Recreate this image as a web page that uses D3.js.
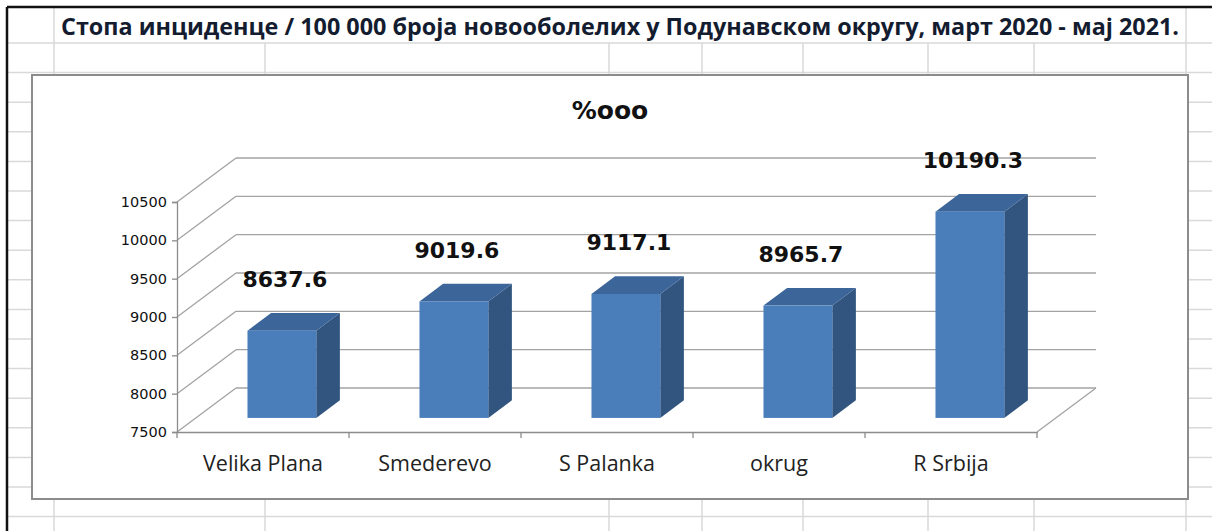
<!DOCTYPE html>
<html>
<head>
<meta charset="utf-8">
<script src="https://cdn.jsdelivr.net/npm/d3@7"></script>
<style>
  body { margin: 0; background: #fff; }
  svg { display: block; }
</style>
</head>
<body>
<svg id="chart" width="1212" height="531"></svg>
<script>
const titleText = "Стопа инциденце / 100 000 броја новооболелих у Подунавском округу, март 2020 - мај 2021.";
const chartTitle = "%ooo";
const categories = ["Velika Plana", "Smederevo", "S Palanka", "okrug", "R Srbija"];
const values = [8637.6, 9019.6, 9117.1, 8965.7, 10190.3];
const yTicks = [7500, 8000, 8500, 9000, 9500, 10000, 10500];

const svg = d3.select("#chart");

// spreadsheet background grid
const sheet = svg.append("g").attr("stroke", "#d9d9d9").attr("stroke-width", 1.5);
const rowLines = d3.range(17).map(i => 43 + i * 29.6);
const colLines = [54, 265, 609, 702, 803, 928, 1034, 1186];
rowLines.forEach(y => {
    sheet.append("line").attr("x1", 8).attr("x2", 1212).attr("y1", y).attr("y2", y);
});
colLines.forEach((x, i) => {
    // title row only shows the outer column lines
    const top = (i === 0 || i === colLines.length - 1) ? 8 : 43;
    sheet.append("line").attr("x1", x).attr("x2", x).attr("y1", top).attr("y2", 531);
});
svg.append("line").attr("x1", 7).attr("x2", 7).attr("y1", 7).attr("y2", 531)
    .attr("stroke", "#111").attr("stroke-width", 2.5);
svg.append("line").attr("x1", 7).attr("x2", 1212).attr("y1", 7).attr("y2", 7)
    .attr("stroke", "#111").attr("stroke-width", 2.5);

// white cell behind the title
svg.append("rect").attr("x", 56).attr("y", 9).attr("width", 1128).attr("height", 33).attr("fill", "#fff");
svg.append("text")
    .attr("x", 61).attr("y", 35)
    .attr("textLength", 1118).attr("lengthAdjust", "spacingAndGlyphs")
    .style("font-family", "'Open Sans', sans-serif")
    .style("font-weight", "bold")
    .style("font-size", "23px")
    .attr("fill", "#141c30")
    .text(titleText);

// chart area
svg.append("rect")
    .attr("x", 32).attr("y", 75).attr("width", 1156).attr("height", 424)
    .attr("fill", "#fff").attr("stroke", "#8c8c8c").attr("stroke-width", 2);

svg.append("text")
    .attr("x", 610).attr("y", 119)
    .attr("text-anchor", "middle")
    .style("font-family", "'DejaVu Sans', sans-serif")
    .style("font-weight", "bold")
    .style("font-size", "25px")
    .attr("fill", "#111")
    .text(chartTitle);

const x = d3.scaleBand().domain(categories).range([177, 1037]);
const y = d3.scaleLinear().domain([7500, 10500]).range([432, 202]);
const depth = { dx: 59, dy: -44 };
const gridColor = "#a3a3a3";

const grid = svg.append("g").attr("stroke", gridColor).attr("stroke-width", 1.3).attr("fill", "none");
yTicks.forEach(t => {
    const fy = y(t);
    // side wall
    grid.append("line").attr("x1", x.range()[0]).attr("y1", fy)
        .attr("x2", x.range()[0] + depth.dx).attr("y2", fy + depth.dy);
    // back wall
    grid.append("line").attr("x1", x.range()[0] + depth.dx).attr("y1", fy + depth.dy)
        .attr("x2", x.range()[1] + depth.dx).attr("y2", fy + depth.dy);
});
// floor right edge
grid.append("line").attr("x1", x.range()[1]).attr("y1", y(7500))
    .attr("x2", x.range()[1] + depth.dx).attr("y2", y(7500) + depth.dy);

// axes
const yAxis = svg.append("g").attr("transform", `translate(${x.range()[0]},0)`)
    .call(d3.axisLeft(y).tickValues(yTicks).tickSize(5).tickPadding(5).tickFormat(d3.format("d")));
yAxis.select(".domain").attr("stroke", "#8c8c8c").attr("stroke-width", 1.3);
yAxis.selectAll(".tick line").attr("stroke", "#8c8c8c").attr("stroke-width", 1.3);
yAxis.selectAll(".tick text")
    .style("font-family", "'DejaVu Sans', sans-serif")
    .style("font-size", "14.5px")
    .attr("fill", "#111");

const xAxis = svg.append("g").attr("transform", `translate(0,${y(7500)})`)
    .call(d3.axisBottom(x).tickSize(0).tickPadding(24));
xAxis.select(".domain").attr("stroke", "#8c8c8c").attr("stroke-width", 1.3);
xAxis.selectAll(".tick text")
    .style("font-family", "'Open Sans', sans-serif")
    .style("font-size", "21.5px")
    .attr("fill", "#222");
const bounds = categories.map(c => x(c)).concat([x.range()[1]]);
xAxis.selectAll(".cat-tick").data(bounds).enter().append("line")
    .attr("class", "cat-tick")
    .attr("x1", d => d).attr("x2", d => d)
    .attr("y1", 0).attr("y2", 6)
    .attr("stroke", "#8c8c8c").attr("stroke-width", 1.3);

// 3D bars
const z0 = 0.32, zd = 0.4;
const off = { dx: depth.dx * z0, dy: depth.dy * z0 };
const side = { dx: depth.dx * zd, dy: depth.dy * zd };
const bars = svg.append("g");
categories.forEach((c, i) => {
    const w = x.bandwidth() * 0.4;
    const x0 = x(c) + x.bandwidth() * 0.3 + off.dx;
    const yt = y(values[i]) + off.dy;
    const yb = y(7500) + off.dy;
    const g = bars.append("g");
    g.append("polygon")
        .attr("points", [[x0 + w, yt], [x0 + w + side.dx, yt + side.dy], [x0 + w + side.dx, yb + side.dy], [x0 + w, yb]].join(" "))
        .attr("fill", "#32557f");
    g.append("polygon")
        .attr("points", [[x0, yt], [x0 + w, yt], [x0 + w + side.dx, yt + side.dy], [x0 + side.dx, yt + side.dy]].join(" "))
        .attr("fill", "#3c659a");
    g.append("rect")
        .attr("x", x0).attr("y", yt).attr("width", w).attr("height", yb - yt)
        .attr("fill", "#4a7ebb");
    svg.append("text")
        .attr("x", x0 + w / 2 + 3)
        .attr("y", yt + side.dy - 34)
        .attr("dy", "0.35em")
        .attr("text-anchor", "middle")
        .style("font-family", "'DejaVu Sans', sans-serif")
        .style("font-weight", "bold")
        .style("font-size", "22px")
        .attr("fill", "#111")
        .text(values[i]);
});
</script>
</body>
</html>
